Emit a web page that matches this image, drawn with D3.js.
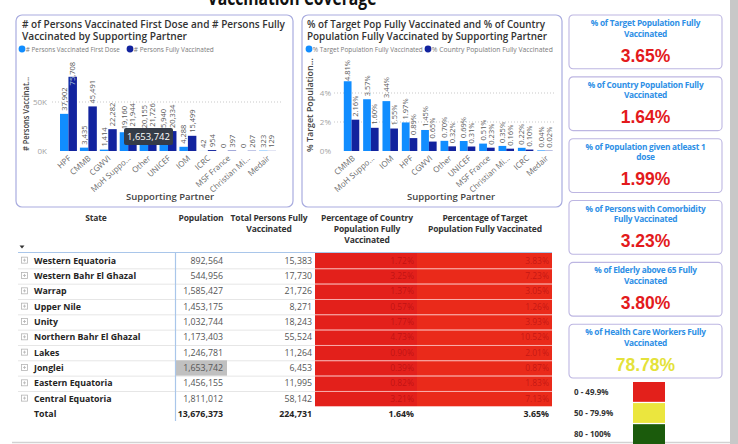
<!DOCTYPE html>
<html>
<head>
<meta charset="utf-8">
<script src="https://cdn.jsdelivr.net/npm/d3@7"></script>
<style>
  html, body { margin: 0; padding: 0; background: #fff; }
  svg { display: block; font-family: "Open Sans", "Noto Sans", sans-serif; }
</style>
</head>
<body>
<svg id="dash" width="738" height="444"></svg>
<script>
// ---- Doses by supporting partner ----
const partnersDoses = ["HPF", "CMMB", "CGWVI", "MoH Suppo...", "Other", "UNICEF", "IOM", "ICRC", "MSF France", "Christian Mi...", "Medair"];
const firstDose = [37902, 3435, 1414, 19160, 20155, 15940, 4288, 42, 0, 0, 323];
const fullyVaccinated = [75708, 45491, 22282, 21944, 21726, 20334, 15499, 954, 397, 267, 129];
const dosesTicks = [0, 50000];

// ---- Coverage (%) by supporting partner ----
const partnersPct = ["CMMB", "MoH Suppo...", "IOM", "HPF", "CGWVI", "Other", "UNICEF", "MSF France", "Christian Mi...", "ICRC", "Medair"];
const pctTargetPop = [4.81, 3.57, 3.44, 1.97, 1.45, 0.70, 0.69, 0.51, 0.35, 0.22, 0.04];
const pctCountryPop = [2.16, 1.60, 1.55, 0.89, 0.65, 0.32, 0.31, 0.23, 0.16, 0.10, 0.02];
const pctTicks = [0, 2, 4];

// ---- State table ----
const states = ["Western Equatoria", "Western Bahr El Ghazal", "Warrap", "Upper Nile", "Unity",
  "Northern Bahr El Ghazal", "Lakes", "Jonglei", "Eastern Equatoria", "Central Equatoria"];
const statePopulation = [892564, 544956, 1585427, 1453175, 1032744, 1173403, 1246781, 1653742, 1456155, 1811012];
const stateFully = [15383, 17730, 21726, 8271, 18243, 55524, 11264, 6453, 11995, 58142];
const statePctCountry = [1.72, 3.25, 1.37, 0.57, 1.77, 4.73, 0.90, 0.39, 0.82, 3.21];
const statePctTarget = [3.83, 7.23, 3.05, 1.26, 3.93, 10.52, 2.01, 0.87, 1.83, 7.13];
const totalPopulation = 13676373;
const totalFully = 224731;
const totalPctCountry = 1.64;
const totalPctTarget = 3.65;
const selectedState = "Jonglei";

// ---- KPI cards ----
const kpiTitles = [
  ["% of Target Population Fully", "Vaccinated"],
  ["% of Country Population Fully", "Vaccinated"],
  ["% of Population given atleast 1", "dose"],
  ["% of Persons with Comorbidity", "Fully Vaccinated"],
  ["% of Elderly above 65 Fully", "Vaccinated"],
  ["% of Health Care Workers Fully", "Vaccinated"]
];
const kpiValues = [3.65, 1.64, 1.99, 3.23, 3.80, 78.78];

// ---- Colour bands ----
const bandLabels = ["0 - 49.9%", "50 - 79.9%", "80 - 100%"];
const bandLimits = [50, 80];

const COL = {
  light: "#118DFF", dark: "#12239E",
  panel: "#a9acdf", card: "#bdb6e2",
  red: "#e3201b", yellow: "#ebe63e", green: "#1b5b0c",
  kpiRed: "#e31a1c", kpiYellow: "#e4e23a"
};
const bandColor = d3.scaleThreshold().domain(bandLimits).range([COL.red, COL.yellow, COL.green]);
const kpiColor = d3.scaleThreshold().domain(bandLimits).range([COL.kpiRed, COL.kpiYellow, COL.green]);

const svg = d3.select("#dash");
const defs = svg.append("defs");
const fmtInt = d3.format(",");
const fmtPct = d => d.toFixed(2) + "%";

// page chrome
svg.append("rect").attr("x", 730).attr("y", 0).attr("width", 8).attr("height", 444).attr("fill", "#c8c8c8");
svg.append("line").attr("x1", 12).attr("x2", 730).attr("y1", 442.5).attr("y2", 442.5)
  .attr("stroke", "#d2d2d2").attr("stroke-width", 1.5);

svg.append("text")
  .attr("x", 292).attr("y", 5).attr("text-anchor", "middle")
  .attr("font-size", 19).attr("font-weight", 700).attr("fill", "#111")
  .attr("textLength", 169).attr("lengthAdjust", "spacingAndGlyphs")
  .text("Vaccination Coverage");

let clipId = 0;

// ---------- grouped bar chart helper ----------
function partnerChart(o) {
  const g = svg.append("g");
  g.append("rect").attr("x", o.box[0]).attr("y", o.box[1]).attr("width", o.box[2]).attr("height", o.box[3])
    .attr("rx", 6).attr("fill", "#fff").attr("stroke", COL.panel).attr("stroke-width", 1.2);

  // title
  const t = g.append("g").attr("fill", "#333").attr("font-size", 11).attr("font-weight", 600);
  o.title.forEach((line, i) => {
    t.append("text").attr("x", o.titleX).attr("y", 28 + i * 12)
      .attr("textLength", o.titleLen[i]).attr("lengthAdjust", "spacingAndGlyphs").text(line);
  });

  // legend
  const lg = g.append("g").attr("font-size", 7).attr("fill", "#7a7a7a");
  o.legend.forEach((L, i) => {
    lg.append("circle").attr("cx", L.cx).attr("cy", 49).attr("r", 3.4).attr("fill", i ? COL.dark : COL.light);
    lg.append("text").attr("x", L.cx + 3.8).attr("y", 51.5)
      .attr("textLength", L.len).attr("lengthAdjust", "spacingAndGlyphs").text(L.text);
  });

  const x0 = d3.scaleBand().domain(o.cats).range(o.xRange).paddingInner(o.pad);
  const x1 = d3.scaleBand().domain([0, 1]).range([0, x0.bandwidth()]);
  const y = d3.scaleLinear().domain(o.yDomain).range([151, o.yTop]);

  // gridlines
  g.append("g").selectAll("line").data(o.ticks.filter(d => d > 0)).join("line")
    .attr("x1", o.gridX[0]).attr("x2", o.gridX[1])
    .attr("y1", d => y(d)).attr("y2", d => y(d))
    .attr("stroke", "#c9c9c9").attr("stroke-dasharray", "1,2");

  // y axis
  const ya = g.append("g").attr("transform", `translate(${o.yAxisX},0)`)
    .call(d3.axisLeft(y).tickValues(o.ticks).tickFormat(o.tickFmt).tickSize(0).tickPadding(0));
  ya.select(".domain").remove();
  ya.selectAll("text").attr("fill", "#a3a3a3").attr("font-size", 8).attr("font-family", "'Open Sans', sans-serif");

  g.append("text")
    .attr("transform", `translate(${o.yTitle[0]},${o.yTitle[1]}) rotate(-90)`)
    .attr("text-anchor", "middle").attr("font-size", 9.5).attr("font-weight", 600).attr("fill", "#444")
    .attr("textLength", o.yTitle[2]).attr("lengthAdjust", "spacingAndGlyphs")
    .text(o.yTitleText);

  // bars
  const rows = o.cats.map((c, i) => ({ c, v: [o.a[i], o.b[i]] }));
  const grp = g.append("g").selectAll("g").data(rows).join("g")
    .attr("transform", d => `translate(${x0(d.c)},0)`);
  grp.selectAll("rect").data(d => d.v.map((v, k) => ({ v, k }))).join("rect")
    .attr("x", d => x1(d.k)).attr("width", x1.bandwidth())
    .attr("y", d => y(d.v)).attr("height", d => y(0) - y(d.v))
    .attr("fill", d => d.k ? COL.dark : COL.light);

  // rotated value labels, kept inside the plot area
  const lab = grp.selectAll("text").data(d => d.v.map((v, k) => ({ v, k }))).join("text")
    .attr("font-size", 7.5).attr("fill", "#5a5a5a").text(d => o.labelFmt(d.v));
  lab.each(function (d) {
    const len = this.getComputedTextLength();
    const start = Math.max(y(d.v) - 3, o.labelTop + len);
    const cx = x1(d.k) + x1.bandwidth() / 2 + 2.7;
    const tr = `translate(${cx},${start}) rotate(-90)`;
    d3.select(this).attr("transform", tr);
    // a label pushed down into a dark bar gets a light copy clipped to that bar
    if (d.k === 1 && start > y(d.v)) {
      const id = "barclip" + (clipId++);
      defs.append("clipPath").attr("id", id).append("rect")
        .attr("x", x1(d.k)).attr("width", x1.bandwidth())
        .attr("y", y(d.v)).attr("height", y(0) - y(d.v));
      d3.select(this.parentNode).append("g").attr("clip-path", `url(#${id})`)
        .append("text").attr("font-size", 7.5).attr("fill", "#8fb4f2")
        .attr("transform", tr).text(o.labelFmt(d.v));
    }
  });

  // category axis
  const xa = g.append("g").attr("transform", `translate(0,151)`)
    .call(d3.axisBottom(x0).tickSize(0).tickPadding(0));
  xa.select(".domain").remove();
  xa.selectAll("text")
    .attr("font-size", 8).attr("fill", "#6a6a6a").attr("font-family", "'Open Sans', sans-serif")
    .attr("text-anchor", "end").attr("dy", 0).attr("y", 0)
    .attr("transform", `translate(${o.tickShift},8) rotate(-42)`);

  g.append("text").attr("x", o.xTitleX).attr("y", 200).attr("text-anchor", "middle")
    .attr("font-size", 9.5).attr("font-weight", 600).attr("fill", "#444").text("Supporting Partner");
  return { g, x0, x1, y };
}

partnerChart({
  box: [16, 15, 277, 192],
  title: ["# of Persons Vaccinated First Dose and # Persons Fully", "Vaccinated by Supporting Partner"],
  titleX: 22, titleLen: [263, 165],
  legend: [
    { cx: 22, text: "# Persons Vaccinated First Dose", len: 94 },
    { cx: 130, text: "# Persons Fully Vaccinated", len: 80 }
  ],
  cats: partnersDoses, a: firstDose, b: fullyVaccinated,
  xRange: [60, 276], pad: 0.15,
  yDomain: [0, 80000], yTop: 72.6, ticks: dosesTicks,
  tickFmt: d => (d / 1000) + "K", yAxisX: 47, gridX: [52, 283],
  yTitle: [29, 114, 74], yTitleText: "# Persons Vaccinat...",
  labelFmt: fmtInt, labelTop: 62, tickShift: 3, xTitleX: 170
});

partnerChart({
  box: [302, 15, 260, 192],
  title: ["% of Target Pop Fully Vaccinated and % of Country", "Population Fully Vaccinated by Supporting Partner"],
  titleX: 307, titleLen: [238, 240],
  legend: [
    { cx: 309, text: "% Target Population Fully Vaccinated", len: 110 },
    { cx: 428, text: "% Country Population Fully Vaccinated", len: 121 }
  ],
  cats: partnersPct, a: pctTargetPop, b: pctCountryPop,
  xRange: [343.8, 552.7], pad: 0.2,
  yDomain: [0, 5.5], yTop: 71.25, ticks: pctTicks,
  tickFmt: d => d + "%", yAxisX: 331, gridX: [334, 554],
  yTitle: [313, 105, 94], yTitleText: "% Target Population...",
  labelFmt: fmtPct, labelTop: 60, tickShift: 4, xTitleX: 451
});

// hover tooltip on the first chart (selected state's population)
const tipVal = statePopulation[states.indexOf(selectedState)];
svg.append("rect").attr("x", 124).attr("y", 128).attr("width", 49).attr("height", 17).attr("rx", 2)
  .attr("fill", "#353c48");
svg.append("text").attr("x", 148.5).attr("y", 140).attr("text-anchor", "middle")
  .attr("font-size", 9.5).attr("font-weight", 500).attr("fill", "#fff").text(fmtInt(tipVal));

// ---------- state table ----------
const tg = svg.append("g");
const headers = [
  { lines: ["State"], x: 96 },
  { lines: ["Population"], x: 201 },
  { lines: ["Total Persons Fully", "Vaccinated"], x: 269 },
  { lines: ["Percentage of Country", "Population Fully", "Vaccinated"], x: 367 },
  { lines: ["Percentage of Target", "Population Fully Vaccinated"], x: 485 }
];
headers.forEach(h => {
  h.lines.forEach((ln, i) => {
    tg.append("text").attr("x", h.x).attr("y", 221 + i * 11).attr("text-anchor", "middle")
      .attr("font-size", 8.5).attr("font-weight", 700).attr("fill", "#333")
      .attr("letter-spacing", -0.15).text(ln);
  });
});
tg.append("path").attr("d", "M19.5,245.5 L24.5,245.5 L22,248.5 Z").attr("fill", "#333");

const rowY = d3.scaleBand().domain(states).range([253, 406.3]);
const rowsData = states.map((s, i) => ({
  s, pop: statePopulation[i], full: stateFully[i], pc: statePctCountry[i], pt: statePctTarget[i]
}));

// heat cells
const heatCols = [
  { key: "pc", x0: 315, x1: 417, tone: COL.red, text: 414 },
  { key: "pt", x0: 417, x1: 552, tone: "#ea2a1a", text: 549 }
];
heatCols.forEach(hc => {
  tg.append("g").selectAll("rect").data(rowsData).join("rect")
    .attr("x", hc.x0).attr("width", hc.x1 - hc.x0)
    .attr("y", d => rowY(d.s)).attr("height", rowY.bandwidth())
    .attr("fill", d => bandColor(d[hc.key]) === COL.red ? hc.tone : bandColor(d[hc.key]));
  tg.append("g").selectAll("text").data(rowsData).join("text")
    .attr("x", hc.text).attr("y", d => rowY(d.s) + rowY.bandwidth() / 2 + 3)
    .attr("text-anchor", "end").attr("font-size", 8.5).attr("fill", "rgba(150,0,10,0.45)")
    .text(d => fmtPct(d[hc.key]));
});

// row separators
tg.append("g").selectAll("line").data(states.slice(1)).join("line")
  .attr("x1", 18).attr("x2", 315).attr("y1", d => rowY(d) + 0.5).attr("y2", d => rowY(d) + 0.5)
  .attr("stroke", "#e6e6e6");
tg.append("g").selectAll("line").data(states.slice(1)).join("line")
  .attr("x1", 315).attr("x2", 552).attr("y1", d => rowY(d) + 0.5).attr("y2", d => rowY(d) + 0.5)
  .attr("stroke", "rgba(255,220,220,0.75)");

// selected cell
tg.append("rect").attr("x", 176).attr("y", rowY(selectedState)).attr("width", 51).attr("height", rowY.bandwidth())
  .attr("fill", "#c0c0c0");

// header rule and column divider
tg.append("line").attr("x1", 18).attr("x2", 552).attr("y1", 252.5).attr("y2", 252.5).attr("stroke", "#a9c6ea").attr("stroke-width", 1.2);
tg.append("line").attr("x1", 175.5).attr("x2", 175.5).attr("y1", 252).attr("y2", 421).attr("stroke", "#a9c6ea").attr("stroke-width", 1.2);

// expand icons + state names + numbers
const rg = tg.append("g").selectAll("g").data(rowsData).join("g")
  .attr("transform", d => `translate(0,${rowY(d.s) + rowY.bandwidth() / 2})`);
rg.append("rect").attr("x", 21.5).attr("y", -3.5).attr("width", 6).attr("height", 6)
  .attr("fill", "none").attr("stroke", "#b5b5b5").attr("stroke-width", 0.8);
rg.append("path").attr("d", "M23,-0.5 H26 M24.5,-2 V1").attr("stroke", "#b5b5b5").attr("stroke-width", 0.8);
rg.append("text").attr("x", 34).attr("y", 3).attr("font-size", 8.8).attr("font-weight", 700).attr("fill", "#252423")
  .text(d => d.s);
rg.append("text").attr("x", 223).attr("y", 3).attr("text-anchor", "end").attr("font-size", 8.8).attr("fill", "#555")
  .text(d => fmtInt(d.pop));
rg.append("text").attr("x", 312).attr("y", 3).attr("text-anchor", "end").attr("font-size", 8.8).attr("fill", "#555")
  .text(d => fmtInt(d.full));

// total row
const totY = 417;
const tot = tg.append("g").attr("font-size", 8.8).attr("font-weight", 700).attr("fill", "#252423");
tot.append("text").attr("x", 34).attr("y", totY).text("Total");
tot.append("text").attr("x", 223).attr("y", totY).attr("text-anchor", "end").text(fmtInt(totalPopulation));
tot.append("text").attr("x", 312).attr("y", totY).attr("text-anchor", "end").text(fmtInt(totalFully));
tot.append("text").attr("x", 414).attr("y", totY).attr("text-anchor", "end").text(fmtPct(totalPctCountry));
tot.append("text").attr("x", 549).attr("y", totY).attr("text-anchor", "end").text(fmtPct(totalPctTarget));

// ---------- KPI cards ----------
const cardY = d3.scaleBand().domain(d3.range(kpiValues.length)).range([15, 378]).paddingInner(0.13);
const cards = svg.append("g").selectAll("g").data(kpiValues.map((v, i) => ({ v, t: kpiTitles[i], i }))).join("g")
  .attr("transform", d => `translate(569,${cardY(d.i)})`);
cards.append("rect").attr("width", 153).attr("height", cardY.bandwidth()).attr("rx", 4)
  .attr("fill", "#fff").attr("stroke", COL.card).attr("stroke-width", 1.1);
cards.each(function (d) {
  const c = d3.select(this);
  d.t.forEach((ln, k) => {
    c.append("text").attr("x", 76.5).attr("y", 11 + k * 10.5).attr("text-anchor", "middle")
      .attr("font-size", 8.3).attr("font-weight", 700).attr("fill", "#2e8fe6").attr("letter-spacing", -0.25).text(ln);
  });
});
cards.append("text").attr("x", 76.5).attr("y", 46.5).attr("text-anchor", "middle")
  .attr("font-family", "'Liberation Sans', Arial, sans-serif").attr("font-weight", 700).attr("font-size", 17.5)
  .attr("fill", d => kpiColor(d.v)).text(d => fmtPct(d.v));

// colour band legend
const bandY = d3.scaleBand().domain(bandLabels).range([382, 444]).paddingInner(0.06);
const bl = svg.append("g").selectAll("g").data(bandLabels).join("g");
bl.append("rect").attr("x", 633).attr("width", 32).attr("y", d => bandY(d)).attr("height", bandY.bandwidth())
  .attr("fill", (d, i) => bandColor(i ? bandLimits[i - 1] : 0));
bl.append("text").attr("x", 574).attr("y", d => bandY(d) + bandY.bandwidth() / 2 + 3)
  .attr("font-size", 8).attr("font-weight", 700).attr("fill", "#333").text(d => d);
</script>
</body>
</html>
